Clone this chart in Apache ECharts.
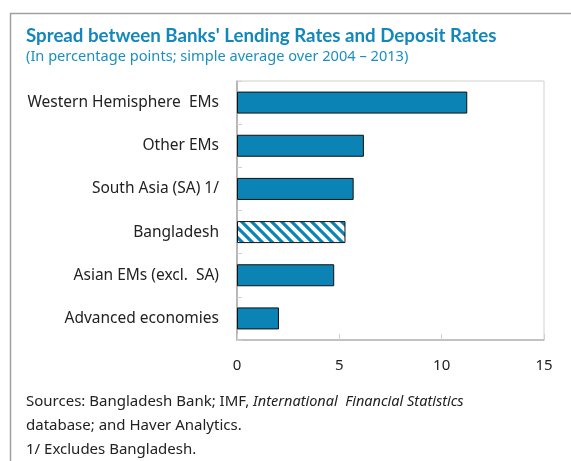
<!DOCTYPE html>
<html>
<head>
<meta charset="utf-8">
<script src="https://cdn.jsdelivr.net/npm/echarts@6/dist/echarts.min.js"></script>
<style>
  html, body { margin: 0; padding: 0; background: #fff; }
  #chart { width: 571px; height: 461px; }
</style>
</head>
<body>
<div id="chart"></div>
<script>
// categories from top to bottom as in the picture
const categories = [
  "Western Hemisphere  EMs",
  "Other EMs",
  "South Asia (SA) 1/",
  "Bangladesh",
  "Asian EMs (excl.  SA)",
  "Advanced economies"
];
const spreads = [11.25, 6.2, 5.7, 5.3, 4.75, 2.05];
const hatched = "Bangladesh";
const xTicks = [0, 5, 10, 15];

const blue = "#0b83b5";

// diagonal stripe pattern for the Bangladesh bar
function makeHatch() {
  const c = document.createElement("canvas");
  c.width = 10; c.height = 10;
  const g = c.getContext("2d");
  g.fillStyle = "#fff";
  g.fillRect(0, 0, 10, 10);
  g.strokeStyle = blue;
  g.lineWidth = 3.2;
  g.beginPath();
  g.moveTo(-5, -5); g.lineTo(15, 15);
  g.moveTo(-5, 5); g.lineTo(5, 15);
  g.moveTo(5, -5); g.lineTo(15, 5);
  g.stroke();
  return c;
}
const hatch = makeHatch();

const chart = echarts.init(document.getElementById("chart"));

const barData = categories.map((name, i) => ({
  value: spreads[i],
  itemStyle: name === hatched
    ? { color: { image: hatch, repeat: "repeat" } }
    : { color: blue }
})).reverse();

const font = "'Noto Sans', 'DejaVu Sans', sans-serif";

chart.setOption({
  animation: false,
  textStyle: { fontFamily: font },
  grid: {
    left: 237, right: 27, top: 81, bottom: 121,
    show: true, borderColor: "#d0d0d0", borderWidth: 1
  },
  xAxis: {
    type: "value",
    min: 0, max: 15, interval: 5,
    axisLine: { show: true, lineStyle: { color: "#b5b5b5", width: 1.5 } },
    axisTick: { show: true, inside: true, length: 6, lineStyle: { color: "#d0d0d0" } },
    splitLine: { show: false },
    axisLabel: { color: "#222", fontSize: 15, margin: 18, fontFamily: font,
      formatter: v => xTicks.includes(v) ? String(v) : "" }
  },
  yAxis: {
    type: "category",
    data: categories.slice().reverse(),
    axisLine: { show: true, lineStyle: { color: "#a8a8a8", width: 1.5 } },
    axisTick: { show: true, inside: true, length: 5, lineStyle: { color: "#d0d0d0" } },
    axisLabel: { color: "#222", fontSize: 15.5, margin: 18, fontFamily: font }
  },
  series: [{
    type: "bar",
    data: barData,
    barWidth: 22,
    itemStyle: { borderColor: "#111", borderWidth: 1 }
  }],
  graphic: [
    { type: "polyline", shape: { points: [[10.5, 461], [10.5, 13.5], [571, 13.5]] },
      style: { stroke: "#a0a0a0", lineWidth: 1.5, fill: null } },
    { type: "text", left: 26, top: 26,
      style: { text: "Spread between Banks' Lending Rates and Deposit Rates",
        fill: "#1287bc", font: "bold 18.7px Lato, 'Noto Sans', sans-serif" } },
    { type: "text", left: 26, top: 49,
      style: { text: "(In percentage points; simple average over 2004 \u2013 2013)",
        fill: "#1a8fc2", font: "14.6px " + font } },
    { type: "text", left: 26, top: 390,
      style: {
        text: "Sources: Bangladesh Bank; IMF, {i|International  Financial Statistics}\ndatabase; and Haver Analytics.\n1/ Excludes Bangladesh.",
        fill: "#222", font: "15px " + font, lineHeight: 24,
        rich: { i: { fontStyle: "italic", fontSize: 14.5, fontFamily: font, fill: "#222", lineHeight: 24 } }
      } }
  ]
});
</script>
</body>
</html>
